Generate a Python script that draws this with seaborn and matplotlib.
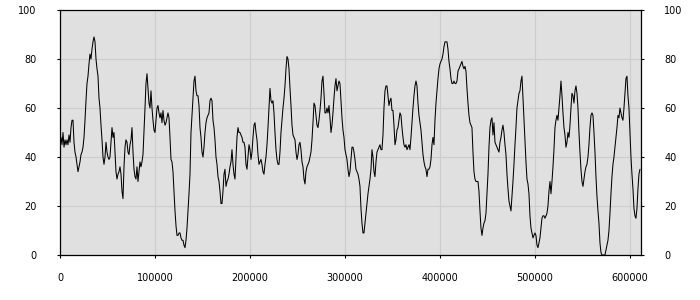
import numpy as np
import pandas as pd
import matplotlib
matplotlib.use("Agg")
import matplotlib.pyplot as plt
import seaborn as sns

# values, one per sample, evenly spaced along x
values_part1 = [47, 48, 45, 50, 44, 47, 45, 47, 45, 49, 46, 52, 55, 55, 46, 42, 40, 37, 34, 36,
                38, 41, 42, 44, 48, 55, 63, 70, 73, 78, 82, 80, 84, 87, 89, 87, 80, 76, 73, 64,
                60, 53, 47, 40, 37, 40, 46, 42, 40, 39, 40, 46, 52, 48, 50, 42, 34, 31, 33, 34,
                36, 33, 26, 23, 36, 44, 47, 46, 42, 41, 45, 47, 52, 42, 35, 32, 31, 36, 30, 34,
                38, 36, 38, 41, 50, 60, 70, 74, 68, 62, 60, 67, 60, 55, 51, 50, 55, 60, 61, 58,
                56, 58, 54, 59, 55, 53, 54, 56, 58, 56, 48, 39, 38, 34, 26, 18, 12, 8, 8, 9,
                9, 7, 6, 6, 4, 3, 6, 11, 18, 25, 33, 50, 57, 64, 71, 73, 67, 65, 65, 61,
                52, 48, 42, 40, 44, 50, 54, 56, 57, 58, 63, 64, 63, 55, 52, 47, 40, 37, 32, 30,
                26, 21, 21, 26, 33, 35, 28, 30, 31, 33, 36, 38, 43, 37, 33, 31, 40, 48, 52, 50,
                50]
values_part2 = [49, 48, 46, 46, 44, 37, 35, 40, 45, 43, 39, 42, 48, 53, 54, 50, 47, 41, 37, 38,
                39, 37, 34, 33, 37, 40, 45, 52, 60, 68, 63, 62, 63, 58, 50, 43, 39, 37, 37, 42,
                50, 55, 60, 64, 69, 76, 81, 80, 76, 68, 61, 53, 49, 48, 47, 42, 39, 41, 45, 46,
                43, 38, 36, 31, 29, 34, 36, 37, 38, 40, 42, 47, 54, 62, 61, 57, 53, 52, 55, 59,
                64, 71, 73, 66, 58, 58, 60, 58, 61, 56, 50, 53, 58, 64, 69, 72, 67, 69, 71, 70,
                63, 56, 51, 48, 43, 41, 39, 35, 32, 34, 39, 44, 44, 42, 39, 35, 34, 33, 31, 28,
                19, 13, 9, 9, 13, 17, 21, 25, 28, 31, 35, 43, 40, 34, 32, 38, 42, 43, 44, 45,
                43, 43, 49, 60, 67, 69, 69, 65, 61, 63, 64, 59, 59, 53, 45, 47, 51, 52, 55, 58,
                57, 52, 48, 45, 44, 45, 43, 44, 45, 43, 48, 54, 60, 65, 69, 71, 69, 62, 57, 54,
                51, 46, 41, 38, 36, 35, 32, 35, 35, 36, 39, 45, 48, 45, 55, 62, 67, 72, 76, 78,
                79, 80, 82, 85, 87, 87, 87, 84, 79, 76, 72, 70, 70, 71, 70, 70, 71, 75, 76, 77,
                78, 79, 77, 76, 77, 75, 68, 62, 57]
values_part3 = [54, 53, 52, 42, 34, 31, 30, 30, 30, 26, 18, 11, 8, 11, 13, 14, 17, 25, 33, 44,
                52, 55, 56, 49, 54, 46, 45, 44, 43, 42, 46, 48, 51, 53, 50, 45, 41, 33, 27, 22,
                20, 18, 24, 30, 37, 45, 52, 60, 63, 66, 67, 71, 73, 64, 55, 47, 38, 31, 29, 25,
                16, 11, 9, 7, 8, 9, 8, 4, 3, 5, 7, 11, 15, 16, 16, 15, 16, 17, 20, 26,
                30, 25, 30, 36, 43, 52, 55, 57, 55, 60, 65, 71, 65, 58, 52, 49, 44, 46, 50, 48,
                53, 60, 66, 65, 62, 67, 69, 66, 60, 50, 42, 35, 30, 28, 31, 34, 36, 37, 40, 45,
                52, 57, 58, 57, 50, 42, 32, 24, 18, 13, 5, 1, 0, 0, 0, 0, 2, 4, 6, 10,
                17, 25, 32, 37, 40, 44, 48, 52, 57, 56, 60, 58, 56, 55, 60, 66, 72, 73, 65, 60,
                50, 40, 33, 27, 19, 16, 15, 19, 27, 33, 35]

values = values_part1 + values_part2 + values_part3
sample_spacing = 1052.6
x_ticks = [0, 100000, 200000, 300000, 400000, 500000, 600000]
y_ticks = [0, 20, 40, 60, 80, 100]

df = pd.DataFrame({"position": np.arange(len(values)) * sample_spacing, "value": values})

sns.set_style("ticks")
plt.rcParams["font.family"] = ["DejaVu Sans"]

fig = plt.figure(figsize=(7, 3), dpi=100)
ax = fig.add_axes([60 / 700, 45 / 300, 581 / 700, 245 / 300])
ax.set_facecolor("#e0e0e0")

sns.lineplot(data=df, x="position", y="value", ax=ax, color="black",
             linewidth=0.75, estimator=None, zorder=3)

ax.set_xlim(0, 611600)
ax.set_ylim(0, 100)
ax.set_xticks(x_ticks)
ax.set_xticklabels([str(t) for t in x_ticks])
ax.set_yticks(y_ticks)
ax.set_yticklabels([str(t) for t in y_ticks])
ax.set_xlabel("")
ax.set_ylabel("")

ax.grid(True, color="#cdcdcd", linewidth=0.8, zorder=0)
ax.set_axisbelow(True)

for s in ax.spines.values():
    s.set_visible(True)
    s.set_color("black")
    s.set_linewidth(0.9)

ax.tick_params(axis="y", which="both", left=True, right=True, labelleft=True, labelright=True,
               direction="out", length=2.2, width=0.8, color="black", labelsize=7, pad=14.5,
               labelcolor="black")
ax.tick_params(axis="x", bottom=True, top=False, direction="out", length=2.2, width=0.8,
               color="black", labelsize=7, pad=10.5, labelcolor="black")

fig.savefig("out.png", dpi=100)
